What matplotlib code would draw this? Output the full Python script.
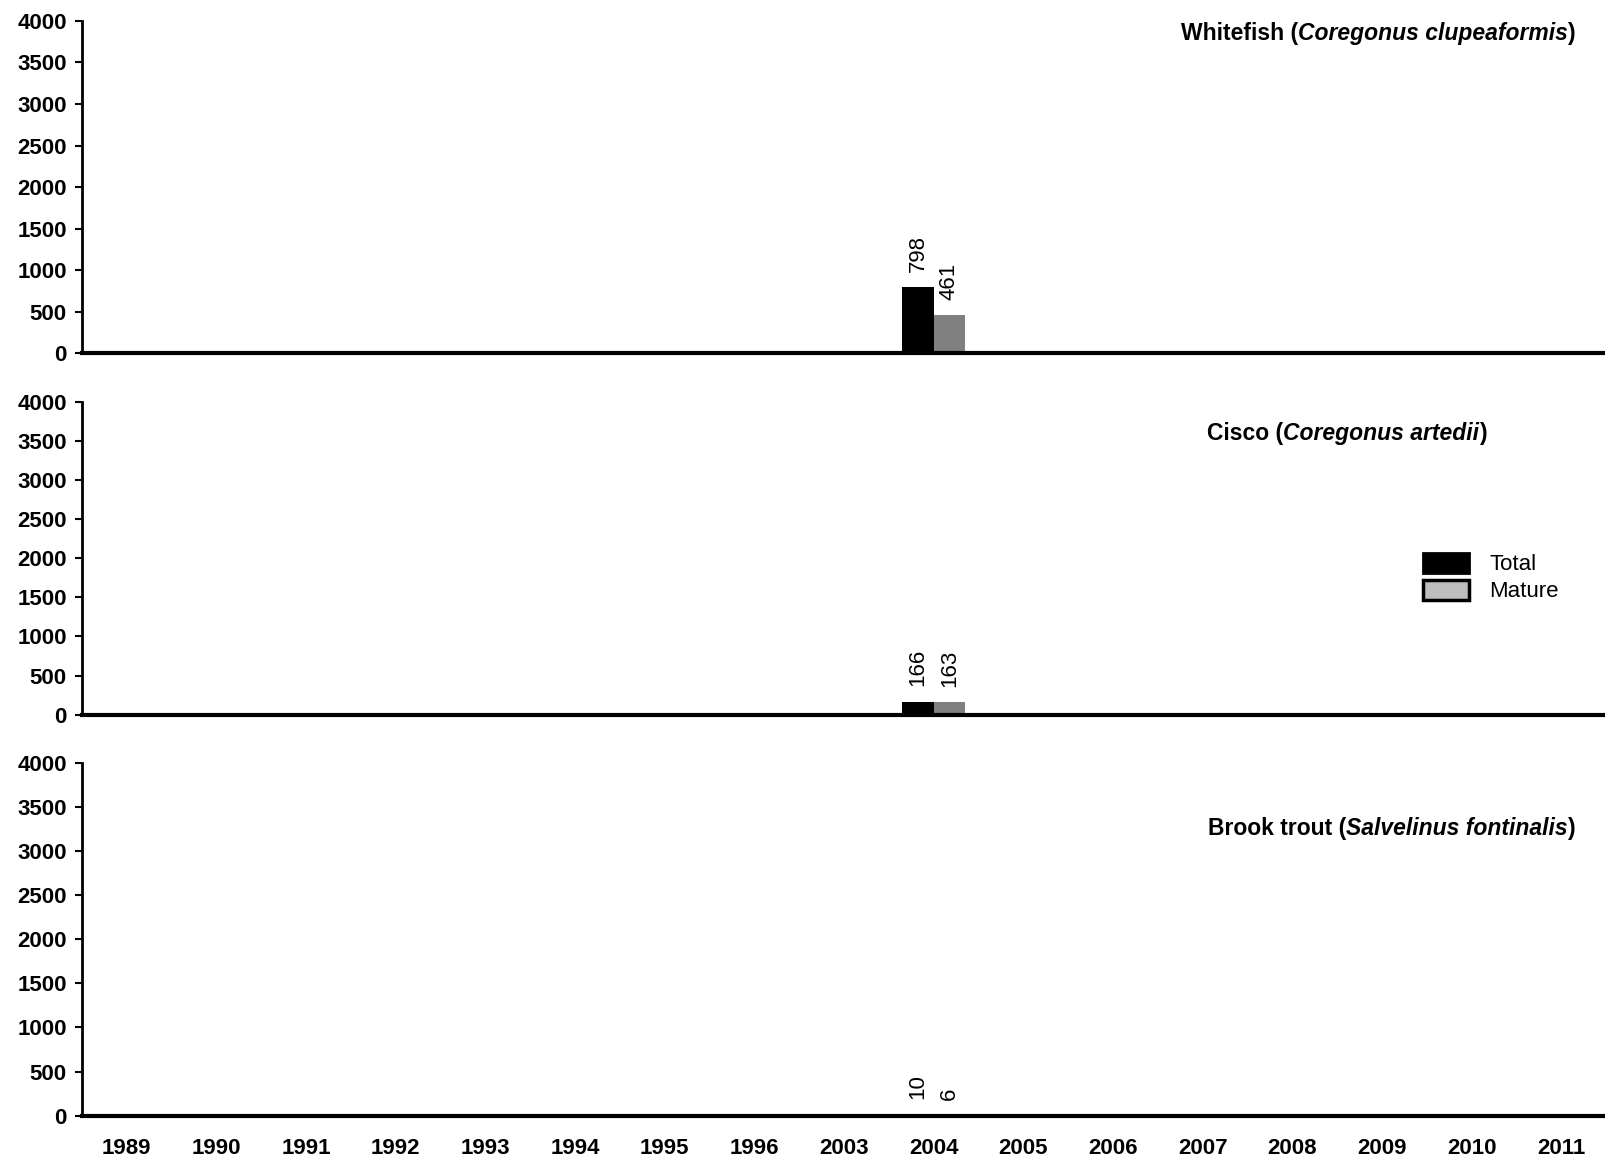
import numpy as np
import matplotlib
matplotlib.use("Agg")
import matplotlib.pyplot as plt
from matplotlib.patches import Patch

plt.rcParams['font.family'] = ['Liberation Sans', 'DejaVu Sans']

# datos
anios = ["1989", "1990", "1991", "1992", "1993", "1994", "1995", "1996", "2003",
         "2004", "2005", "2006", "2007", "2008", "2009", "2010", "2011"]
especies = ["Whitefish", "Cisco", "Brook trout"]
nombres_latinos = ["Coregonus clupeaformis", "Coregonus artedii", "Salvelinus fontinalis"]
anio_datos = "2004"
total = [798, 166, 10]
maduros = [461, 163, 6]
yticks = [0, 500, 1000, 1500, 2000, 2500, 3000, 3500, 4000]

fig = plt.figure(figsize=(16.06, 11.62), dpi=100)

# posiciones de los paneles (fraccion de figura)
posiciones = [
    [0.051, 0.696, 0.949, 0.286],
    [0.051, 0.385, 0.949, 0.269],
    [0.051, 0.040, 0.949, 0.303],
]
pos_titulo = [(0.98, 0.962), (0.922, 0.898), (0.98, 0.814)]

x = np.arange(len(anios))
ancho = 0.35
i_dato = anios.index(anio_datos)

for k in range(3):
    ax = fig.add_axes(posiciones[k])

    b1 = ax.bar(x[i_dato] - ancho / 2, total[k], ancho, color="black")
    b2 = ax.bar(x[i_dato] + ancho / 2, maduros[k], ancho, color="#808080")
    for barra, v in [(b1[0], total[k]), (b2[0], maduros[k])]:
        ax.annotate(str(v), (barra.get_x() + barra.get_width() / 2, v),
                    xytext=(0, 11), textcoords="offset points",
                    rotation=90, ha="center", va="bottom", fontsize=16)

    ax.set_xlim(-0.5, len(anios) - 0.5)
    ax.set_ylim(0, 4000)
    ax.set_yticks(yticks)
    ax.set_yticklabels([str(v) for v in yticks], fontsize=16, fontweight="bold")
    ax.set_xticks(x)
    if k == 2:
        ax.set_xticklabels(anios, fontsize=16, fontweight="bold")
    else:
        ax.set_xticklabels([])
    ax.tick_params(axis="x", length=0, pad=16)
    ax.tick_params(axis="y", length=5, width=1.5, direction="out", pad=6)
    for s in ["top", "right"]:
        ax.spines[s].set_visible(False)
    ax.spines["left"].set_linewidth(2)
    ax.spines["bottom"].set_linewidth(3)

    # titulo con el nombre latino en cursiva
    tx, ty = pos_titulo[k]
    p3 = ax.text(tx, ty, ")", transform=ax.transAxes, ha="right", va="center",
                 fontsize=16.5, fontweight="bold")
    p2 = ax.annotate(nombres_latinos[k], xy=(0, 0.5), xycoords=p3,
                     ha="right", va="center", fontsize=16.5, fontweight="bold",
                     fontstyle="italic")
    ax.annotate(especies[k] + " (", xy=(0, 0.5), xycoords=p2,
                ha="right", va="center", fontsize=16.5, fontweight="bold")

# leyenda
manejadores = [Patch(facecolor="black", edgecolor="black", linewidth=2, label="Total"),
               Patch(facecolor="#bdbdbd", edgecolor="black", linewidth=2.5, label="Mature")]
fig.legend(handles=manejadores, loc="center left", bbox_to_anchor=(0.879, 0.503),
           frameon=False, fontsize=16, handlelength=2.1, handleheight=1.0,
           labelspacing=0.2, handletextpad=0.9, borderpad=0)

fig.savefig("out.png", dpi=100)
